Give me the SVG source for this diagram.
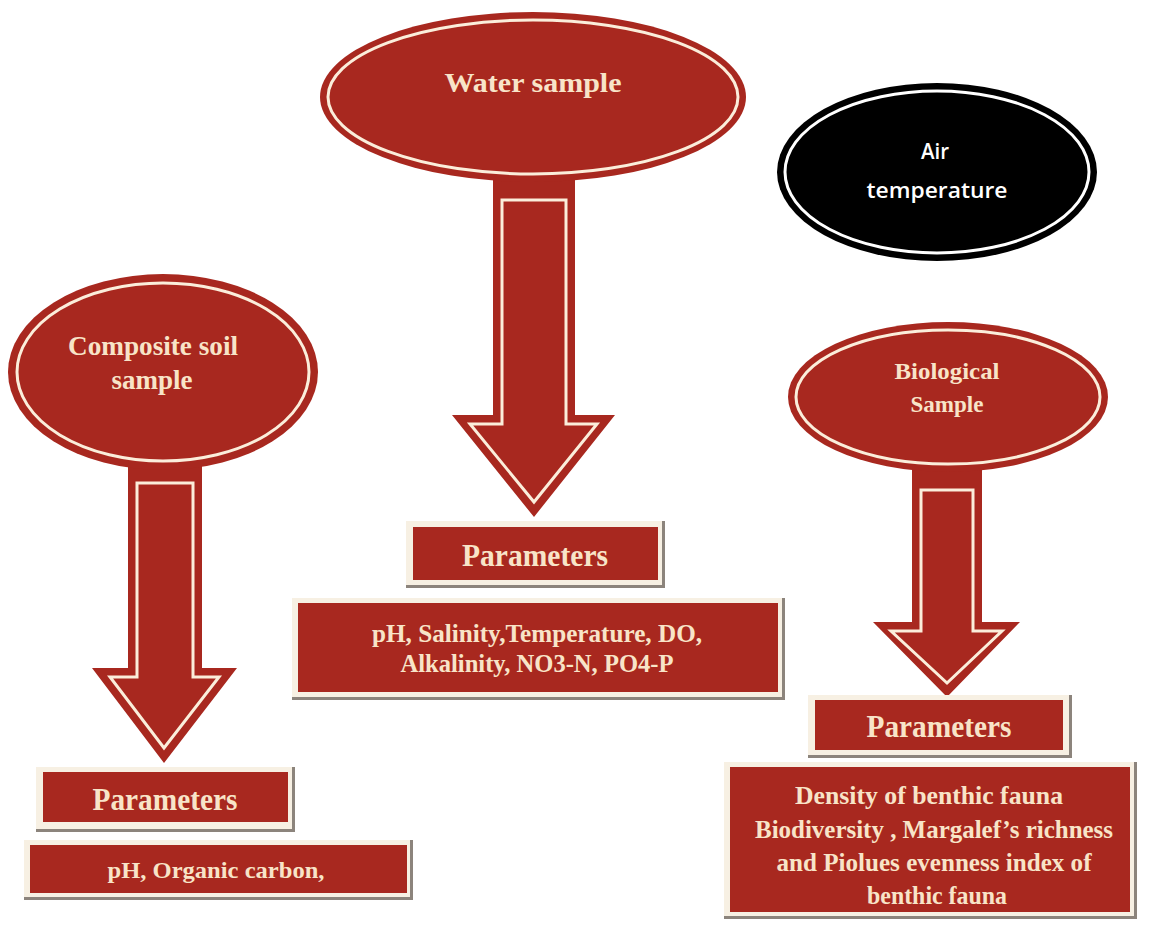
<svg xmlns="http://www.w3.org/2000/svg" width="1149" height="928" viewBox="0 0 1149 928">
<style>
.red{fill:#a8281f}
.ring{fill:none;stroke:#fbeedb;stroke-width:3}
.aring{fill:none;stroke:#ffffff;stroke-width:3}
.t{font-family:"Liberation Serif","Times New Roman",serif;font-weight:bold;fill:#f8e4c8;text-anchor:middle}
.a{font-family:"Open Sans","Noto Sans",sans-serif;font-weight:600;fill:#ffffff;text-anchor:middle;font-size:22px}
.frame{fill:#f7f0e3}
.sh{fill:#8c847c}
</style>
<rect width="1149" height="928" fill="#ffffff"/>
<g id="connectors">
  <g id="arrow-water">
    <polygon class="red" points="493,170 575,170 575,415 615,415 534,517 452,415 493,415"/>
    <polygon class="ring" points="502,200 566,200 566,424 597,424 534,502 470,424 502,424"/>
  </g>
  <g id="arrow-soil">
    <polygon class="red" points="128,455 202,455 202,668 237,668 164,763 92,668 128,668"/>
    <polygon class="ring" points="137,483 193,483 193,677 219,677 164,748 110,677 137,677"/>
  </g>
  <g id="arrow-bio">
    <polygon class="red" points="912,460 982,460 982,622 1020,622 947,697 873,622 912,622"/>
    <polygon class="ring" points="921,490 973,490 973,631 1002,631 947,683 891,631 921,631"/>
  </g>
</g>
<g id="water-sample">
  <ellipse class="red" cx="533" cy="97" rx="213" ry="85"/>
  <ellipse class="ring" cx="533" cy="97" rx="205" ry="77"/>
  <text class="t" x="533" y="92" font-size="28" textLength="177" lengthAdjust="spacingAndGlyphs">Water sample</text>
</g>
<g id="air-temperature">
  <ellipse fill="#000000" cx="937" cy="172" rx="160" ry="89"/>
  <ellipse class="aring" cx="937" cy="172" rx="152" ry="81"/>
  <text class="a" x="935" y="159" textLength="28" lengthAdjust="spacingAndGlyphs">Air</text>
  <text class="a" x="937" y="198" textLength="141" lengthAdjust="spacingAndGlyphs">temperature</text>
</g>
<g id="composite-soil-sample">
  <ellipse class="red" cx="163" cy="372" rx="155" ry="98"/>
  <ellipse class="ring" cx="163" cy="372" rx="146" ry="89"/>
  <text class="t" x="153" y="355" font-size="27" textLength="170" lengthAdjust="spacingAndGlyphs">Composite soil</text>
  <text class="t" x="152" y="389" font-size="27" textLength="81" lengthAdjust="spacingAndGlyphs">sample</text>
</g>
<g id="biological-sample">
  <ellipse class="red" cx="948" cy="397" rx="160" ry="75"/>
  <ellipse class="ring" cx="948" cy="397" rx="152" ry="67"/>
  <text class="t" x="947" y="379" font-size="23" textLength="105" lengthAdjust="spacingAndGlyphs">Biological</text>
  <text class="t" x="947" y="412" font-size="23" textLength="73" lengthAdjust="spacingAndGlyphs">Sample</text>
</g>
<g id="water-parameters">
  <rect class="sh" x="406" y="521" width="259" height="67"/>
  <rect class="frame" x="406" y="521" width="256" height="64"/>
  <rect class="red" x="413" y="527" width="245" height="53"/>
  <text class="t" x="535" y="566" font-size="31" textLength="146" lengthAdjust="spacingAndGlyphs">Parameters</text>
</g>
<g id="water-list">
  <rect class="sh" x="292" y="598" width="493" height="102"/>
  <rect class="frame" x="292" y="598" width="490" height="99"/>
  <rect class="red" x="298" y="603" width="480" height="89"/>
  <text class="t" x="537" y="642" font-size="26" textLength="330" lengthAdjust="spacingAndGlyphs">pH, Salinity,Temperature, DO,</text>
  <text class="t" x="537" y="672" font-size="26" textLength="273" lengthAdjust="spacingAndGlyphs">Alkalinity, NO3-N, PO4-P</text>
</g>
<g id="soil-parameters">
  <rect class="sh" x="36" y="767" width="259" height="65"/>
  <rect class="frame" x="36" y="767" width="256" height="62"/>
  <rect class="red" x="43" y="772" width="245" height="50"/>
  <text class="t" x="165" y="810" font-size="31" textLength="145" lengthAdjust="spacingAndGlyphs">Parameters</text>
</g>
<g id="soil-list">
  <rect class="sh" x="24" y="840" width="389" height="60"/>
  <rect class="frame" x="24" y="840" width="386" height="57"/>
  <rect class="red" x="30" y="845" width="377" height="48"/>
  <text class="t" x="216" y="878" font-size="24" textLength="217" lengthAdjust="spacingAndGlyphs">pH, Organic carbon,</text>
</g>
<g id="bio-parameters">
  <rect class="sh" x="808" y="695" width="264" height="63"/>
  <rect class="frame" x="808" y="695" width="261" height="60"/>
  <rect class="red" x="815" y="700" width="248" height="50"/>
  <text class="t" x="939" y="737" font-size="31" textLength="145" lengthAdjust="spacingAndGlyphs">Parameters</text>
</g>
<g id="bio-list">
  <rect class="sh" x="724" y="762" width="413" height="157"/>
  <rect class="frame" x="724" y="762" width="410" height="154"/>
  <rect class="red" x="730" y="767" width="400" height="145"/>
  <text class="t" x="929" y="804" font-size="25" textLength="268" lengthAdjust="spacingAndGlyphs">Density of benthic fauna</text>
  <text class="t" x="934" y="838" font-size="25" textLength="358" lengthAdjust="spacingAndGlyphs">Biodiversity , Margalef’s richness</text>
  <text class="t" x="934" y="871" font-size="25" textLength="315" lengthAdjust="spacingAndGlyphs">and Piolues evenness index of</text>
  <text class="t" x="937" y="904" font-size="25" textLength="140" lengthAdjust="spacingAndGlyphs">benthic fauna</text>
</g>
</svg>
